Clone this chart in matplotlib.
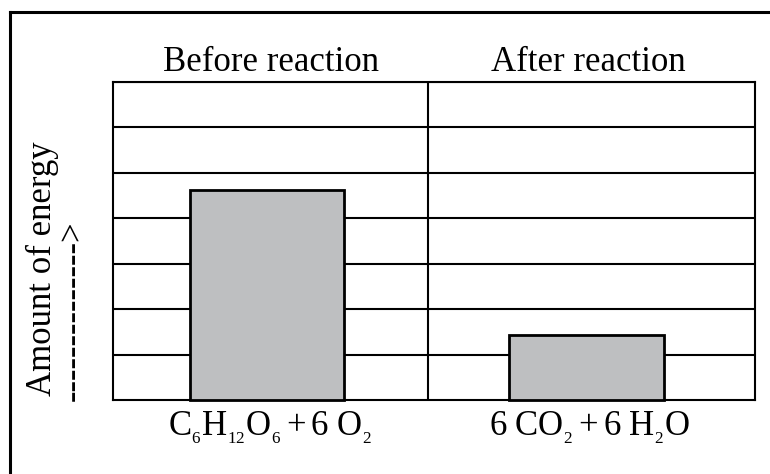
"""Energy bar chart: before vs after reaction."""

import matplotlib
matplotlib.use("Agg")
import matplotlib.pyplot as plt
from matplotlib.lines import Line2D

stages = ["Before reaction", "After reaction"]
formulas = [r"$\mathrm{C_{_6}H_{_{12}}O_{_6}+6\ O_{_2}}$",
            r"$\mathrm{6\ CO_{_2}+6\ H_{_2}O}$"]
energy = [4.62, 1.43]
grid_levels = [1, 2, 3, 4, 5, 6, 7]

plt.rcParams["font.family"] = ["Liberation Serif", "DejaVu Serif"]
plt.rcParams["mathtext.fontset"] = "custom"
plt.rcParams["mathtext.rm"] = "Liberation Serif"
plt.rcParams["mathtext.it"] = "Liberation Serif:italic"

W, H = 770, 474
fig = plt.figure(figsize=(W / 100, H / 100), dpi=100)
ax = fig.add_axes([113 / W, 74 / H, 642 / W, 318 / H])

lw = 1.5
ax.set_xlim(0, 2)
ax.set_ylim(0, 7)
for y in grid_levels:
    ax.axhline(y, color="black", lw=lw, zorder=1)
ax.axvline(0.98, color="black", lw=lw, zorder=1)
for s in ax.spines.values():
    s.set_linewidth(lw)

xs = [0.48, 1.475]
ax.bar(xs, energy, width=0.48, color="#bebfc1", edgecolor="black",
       linewidth=2, zorder=3, clip_on=False)

ax.set_xticks([])
ax.set_yticks([])

def px(x, y):
    return x / W, 1 - y / H

# column headers above the grid
for cx, name in zip([271, 588], stages):
    fig.text(*px(cx, 71), name, ha="center", va="baseline", fontsize=25)

# formulas below the bars
for cx, f in zip([270, 590], formulas):
    fig.text(*px(cx, 435), f, ha="center", va="baseline", fontsize=25)

# axis label and arrow
fig.text(*px(42, 269), "Amount of energy", rotation=90,
         ha="center", va="center", fontsize=25)
fig.text(*px(82, 311), "-------------->", rotation=90, rotation_mode="anchor",
         ha="center", va="baseline", fontsize=25)

# outer frame (runs off the canvas at right and bottom)
fx, fy = px(10, 12)
fig.add_artist(Line2D([fx, 1.01], [fy, fy], color="black", lw=2.2))
fig.add_artist(Line2D([fx, fx], [-0.01, fy], color="black", lw=2.2))

fig.savefig("out.png", dpi=100)
